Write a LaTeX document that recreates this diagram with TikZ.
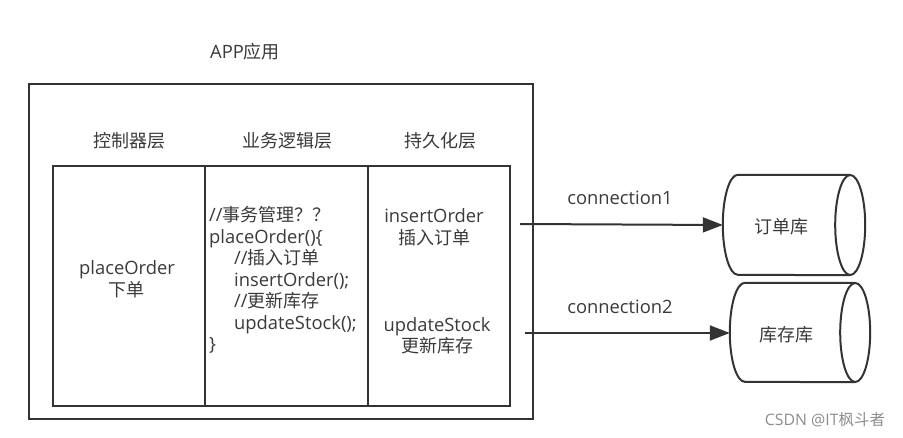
\documentclass[tikz,border=0pt]{standalone}
\usepackage{fontspec}
\setmainfont[Scale=1.02]{Open Sans}
\newfontfamily\cjk{Noto Sans CJK SC}
\usetikzlibrary{arrows.meta}
\definecolor{ln}{HTML}{333333}
\definecolor{tx}{HTML}{3A3A3A}
\definecolor{wm}{HTML}{8C8C8C}
\tikzset{
  box/.style={draw=ln, line width=2pt, inner sep=0pt},
  lbl/.style={text=tx, font=\fontsize{18pt}{21.5pt}\selectfont, inner sep=0pt, align=center},
  conn/.style={draw=ln, line width=2pt, -{Triangle[length=20pt,width=15pt]}},
  dbshape/.style={inner sep=0pt}
}
\begin{document}
\begin{tikzpicture}[x=1pt,y=-1pt]
\useasboundingbox (0,0) rectangle (903,438);
% title
\node[lbl] (app) at (245,52) {APP{\cjk 应用}};
% outer box
\node[box, minimum width=504pt, minimum height=335pt] (outer) at (281,251.5) {};
% columns
\node[box, minimum width=152pt, minimum height=240pt] (c1) at (129,286) {};
\node[box, minimum width=163pt, minimum height=240pt] (c2) at (286.5,286) {};
\node[box, minimum width=142pt, minimum height=240pt] (c3) at (439,286) {};
% headers
\node[lbl] (h1) at (129,141) {\cjk 控制器层};
\node[lbl] (h2) at (287,141) {\cjk 业务逻辑层};
\node[lbl] (h3) at (440,141) {\cjk 持久化层};
% column texts
\node[lbl] (t1) at (127,279) {placeOrder\\{\cjk 下单}};
\node[lbl, align=left, anchor=west] (t2) at (209,280) {//{\cjk 事务管理？？}\\placeOrder()\{\\\hspace*{25pt}//{\cjk 插入订单}\\\hspace*{25pt}insertOrder();\\\hspace*{25pt}//{\cjk 更新库存}\\\hspace*{25pt}updateStock();\\\}};
\node[lbl] (t3) at (434,227.5) {insertOrder\\{\cjk 插入订单}};
\node[lbl] (t4) at (437,336) {updateStock\\{\cjk 更新库存}};
% databases
\node[dbshape, minimum width=142pt, minimum height=100pt] (db1) at (794,225) {};
\node[dbshape, minimum width=140pt, minimum height=99pt] (db2) at (800,332.5) {};
\draw[ln, line width=2pt] ([xshift=-15pt]db1.north east) -- ([xshift=15pt]db1.north west)
  arc[start angle=90, end angle=270, x radius=15pt, y radius=50pt] -- ([xshift=-15pt]db1.south east);
\draw[ln, line width=2pt] ([xshift=-15pt]db1.east) ellipse[x radius=15pt, y radius=50pt];
\draw[ln, line width=2pt] ([xshift=-15pt]db2.north east) -- ([xshift=15pt]db2.north west)
  arc[start angle=90, end angle=270, x radius=15pt, y radius=49.5pt] -- ([xshift=-15pt]db2.south east);
\draw[ln, line width=2pt] ([xshift=-15pt]db2.east) ellipse[x radius=15pt, y radius=49.5pt];
\node[lbl] (d1) at (781,227) {\cjk 订单库};
\node[lbl] (d2) at (786,335) {\cjk 库存库};
% connectors
\coordinate (s1) at (520,224);
\coordinate (s2) at (525,333);
\draw[conn] (s1) -- (db1.west);
\draw[conn] (s2) -- (s2 -| db2.west);
\node[lbl] (l1) at (620,198) {connection1};
\node[lbl] (l2) at (620,307) {connection2};
% watermark
\node[lbl, text=wm, font=\fontsize{15.5pt}{18pt}\selectfont] (wmk) at (825,420) {CSDN @IT{\cjk 枫斗者}};
\end{tikzpicture}
\end{document}
